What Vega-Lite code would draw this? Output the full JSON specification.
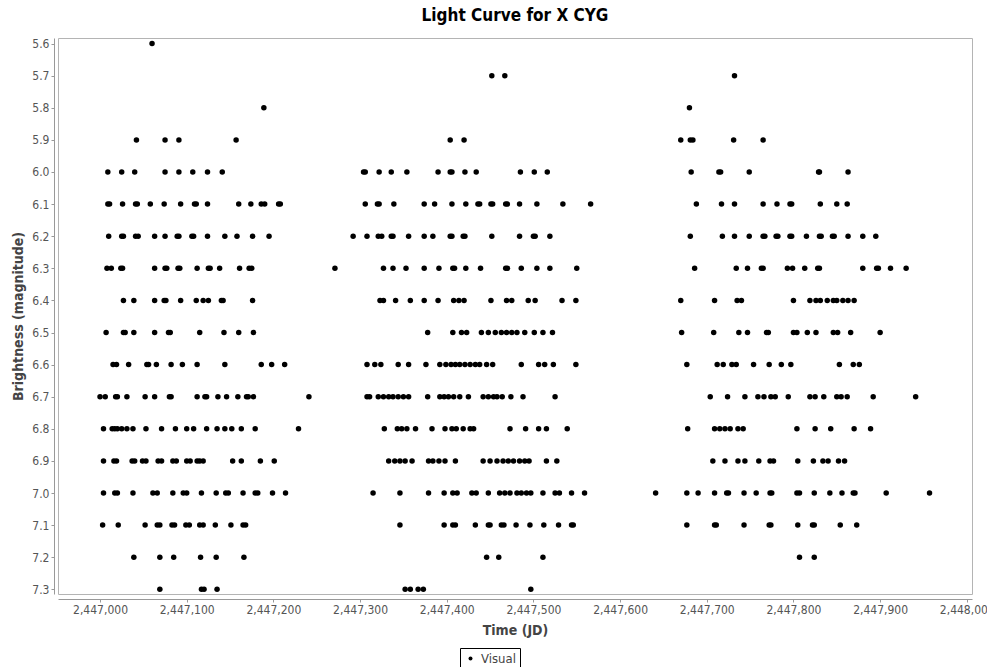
{
"$schema": "https://vega.github.io/schema/vega-lite/v6.json",
"width": 914, "height": 556,
"autosize": {"type": "none"},
"padding": {"left": 58, "top": 38, "right": 15, "bottom": 73},
"title": {"text": "Light Curve for X CYG", "fontSize": 17, "fontWeight": "bold", "color": "#000000", "anchor": "middle", "offset": 13},
"config": {
  "font": "DejaVu Sans Condensed, DejaVu Sans",
  "view": {"stroke": "#b4b4b4", "strokeWidth": 1},
  "axis": {"grid": false, "domainColor": "#999999", "tickColor": "#999999", "tickSize": 3, "labelColor": "#555555", "labelFontSize": 12, "titleColor": "#444444", "titleFontSize": 14, "titleFontWeight": "bold", "labelPadding": 2}
},
"datasets": {"obs": [
{"JD":2447060,"mag":5.6},
{"JD":2447452,"mag":5.7},{"JD":2447467,"mag":5.7},{"JD":2447732,"mag":5.7},
{"JD":2447189,"mag":5.8},{"JD":2447680,"mag":5.8},
{"JD":2447042,"mag":5.9},{"JD":2447075,"mag":5.9},{"JD":2447091,"mag":5.9},{"JD":2447157,"mag":5.9},{"JD":2447404,"mag":5.9},{"JD":2447420,"mag":5.9},{"JD":2447670,"mag":5.9},{"JD":2447681,"mag":5.9},{"JD":2447684,"mag":5.9},{"JD":2447731,"mag":5.9},{"JD":2447765,"mag":5.9},
{"JD":2447009,"mag":6.0},{"JD":2447025,"mag":6.0},{"JD":2447040,"mag":6.0},{"JD":2447075,"mag":6.0},{"JD":2447091,"mag":6.0},{"JD":2447107,"mag":6.0},{"JD":2447124,"mag":6.0},{"JD":2447141,"mag":6.0},{"JD":2447304,"mag":6.0},{"JD":2447306,"mag":6.0},{"JD":2447322,"mag":6.0},{"JD":2447336,"mag":6.0},{"JD":2447354,"mag":6.0},{"JD":2447390,"mag":6.0},{"JD":2447404,"mag":6.0},{"JD":2447406,"mag":6.0},{"JD":2447421,"mag":6.0},{"JD":2447434,"mag":6.0},{"JD":2447485,"mag":6.0},{"JD":2447501,"mag":6.0},{"JD":2447516,"mag":6.0},{"JD":2447682,"mag":6.0},{"JD":2447714,"mag":6.0},{"JD":2447716,"mag":6.0},{"JD":2447749,"mag":6.0},{"JD":2447829,"mag":6.0},{"JD":2447830,"mag":6.0},{"JD":2447863,"mag":6.0},
{"JD":2447009,"mag":6.1},{"JD":2447011,"mag":6.1},{"JD":2447026,"mag":6.1},{"JD":2447041,"mag":6.1},{"JD":2447043,"mag":6.1},{"JD":2447058,"mag":6.1},{"JD":2447074,"mag":6.1},{"JD":2447093,"mag":6.1},{"JD":2447109,"mag":6.1},{"JD":2447111,"mag":6.1},{"JD":2447124,"mag":6.1},{"JD":2447160,"mag":6.1},{"JD":2447174,"mag":6.1},{"JD":2447186,"mag":6.1},{"JD":2447190,"mag":6.1},{"JD":2447206,"mag":6.1},{"JD":2447208,"mag":6.1},{"JD":2447306,"mag":6.1},{"JD":2447320,"mag":6.1},{"JD":2447322,"mag":6.1},{"JD":2447339,"mag":6.1},{"JD":2447374,"mag":6.1},{"JD":2447386,"mag":6.1},{"JD":2447406,"mag":6.1},{"JD":2447422,"mag":6.1},{"JD":2447436,"mag":6.1},{"JD":2447438,"mag":6.1},{"JD":2447451,"mag":6.1},{"JD":2447453,"mag":6.1},{"JD":2447468,"mag":6.1},{"JD":2447470,"mag":6.1},{"JD":2447484,"mag":6.1},{"JD":2447504,"mag":6.1},{"JD":2447534,"mag":6.1},{"JD":2447566,"mag":6.1},{"JD":2447688,"mag":6.1},{"JD":2447717,"mag":6.1},{"JD":2447732,"mag":6.1},{"JD":2447765,"mag":6.1},{"JD":2447781,"mag":6.1},{"JD":2447796,"mag":6.1},{"JD":2447798,"mag":6.1},{"JD":2447831,"mag":6.1},{"JD":2447850,"mag":6.1},{"JD":2447862,"mag":6.1},
{"JD":2447010,"mag":6.2},{"JD":2447025,"mag":6.2},{"JD":2447027,"mag":6.2},{"JD":2447041,"mag":6.2},{"JD":2447044,"mag":6.2},{"JD":2447063,"mag":6.2},{"JD":2447075,"mag":6.2},{"JD":2447089,"mag":6.2},{"JD":2447091,"mag":6.2},{"JD":2447106,"mag":6.2},{"JD":2447108,"mag":6.2},{"JD":2447124,"mag":6.2},{"JD":2447144,"mag":6.2},{"JD":2447158,"mag":6.2},{"JD":2447176,"mag":6.2},{"JD":2447195,"mag":6.2},{"JD":2447292,"mag":6.2},{"JD":2447308,"mag":6.2},{"JD":2447321,"mag":6.2},{"JD":2447325,"mag":6.2},{"JD":2447336,"mag":6.2},{"JD":2447338,"mag":6.2},{"JD":2447356,"mag":6.2},{"JD":2447374,"mag":6.2},{"JD":2447384,"mag":6.2},{"JD":2447404,"mag":6.2},{"JD":2447406,"mag":6.2},{"JD":2447419,"mag":6.2},{"JD":2447421,"mag":6.2},{"JD":2447452,"mag":6.2},{"JD":2447484,"mag":6.2},{"JD":2447500,"mag":6.2},{"JD":2447502,"mag":6.2},{"JD":2447519,"mag":6.2},{"JD":2447681,"mag":6.2},{"JD":2447718,"mag":6.2},{"JD":2447732,"mag":6.2},{"JD":2447749,"mag":6.2},{"JD":2447765,"mag":6.2},{"JD":2447767,"mag":6.2},{"JD":2447780,"mag":6.2},{"JD":2447782,"mag":6.2},{"JD":2447796,"mag":6.2},{"JD":2447798,"mag":6.2},{"JD":2447815,"mag":6.2},{"JD":2447830,"mag":6.2},{"JD":2447832,"mag":6.2},{"JD":2447845,"mag":6.2},{"JD":2447847,"mag":6.2},{"JD":2447863,"mag":6.2},{"JD":2447880,"mag":6.2},{"JD":2447895,"mag":6.2},
{"JD":2447008,"mag":6.3},{"JD":2447013,"mag":6.3},{"JD":2447024,"mag":6.3},{"JD":2447026,"mag":6.3},{"JD":2447063,"mag":6.3},{"JD":2447075,"mag":6.3},{"JD":2447077,"mag":6.3},{"JD":2447090,"mag":6.3},{"JD":2447092,"mag":6.3},{"JD":2447112,"mag":6.3},{"JD":2447125,"mag":6.3},{"JD":2447127,"mag":6.3},{"JD":2447138,"mag":6.3},{"JD":2447161,"mag":6.3},{"JD":2447172,"mag":6.3},{"JD":2447175,"mag":6.3},{"JD":2447271,"mag":6.3},{"JD":2447327,"mag":6.3},{"JD":2447338,"mag":6.3},{"JD":2447353,"mag":6.3},{"JD":2447374,"mag":6.3},{"JD":2447391,"mag":6.3},{"JD":2447407,"mag":6.3},{"JD":2447409,"mag":6.3},{"JD":2447422,"mag":6.3},{"JD":2447439,"mag":6.3},{"JD":2447468,"mag":6.3},{"JD":2447470,"mag":6.3},{"JD":2447486,"mag":6.3},{"JD":2447504,"mag":6.3},{"JD":2447519,"mag":6.3},{"JD":2447550,"mag":6.3},{"JD":2447686,"mag":6.3},{"JD":2447734,"mag":6.3},{"JD":2447747,"mag":6.3},{"JD":2447763,"mag":6.3},{"JD":2447765,"mag":6.3},{"JD":2447793,"mag":6.3},{"JD":2447799,"mag":6.3},{"JD":2447813,"mag":6.3},{"JD":2447828,"mag":6.3},{"JD":2447830,"mag":6.3},{"JD":2447880,"mag":6.3},{"JD":2447896,"mag":6.3},{"JD":2447898,"mag":6.3},{"JD":2447912,"mag":6.3},{"JD":2447930,"mag":6.3},
{"JD":2447027,"mag":6.4},{"JD":2447039,"mag":6.4},{"JD":2447063,"mag":6.4},{"JD":2447074,"mag":6.4},{"JD":2447076,"mag":6.4},{"JD":2447093,"mag":6.4},{"JD":2447111,"mag":6.4},{"JD":2447119,"mag":6.4},{"JD":2447125,"mag":6.4},{"JD":2447140,"mag":6.4},{"JD":2447142,"mag":6.4},{"JD":2447176,"mag":6.4},{"JD":2447323,"mag":6.4},{"JD":2447327,"mag":6.4},{"JD":2447341,"mag":6.4},{"JD":2447358,"mag":6.4},{"JD":2447374,"mag":6.4},{"JD":2447390,"mag":6.4},{"JD":2447408,"mag":6.4},{"JD":2447414,"mag":6.4},{"JD":2447420,"mag":6.4},{"JD":2447451,"mag":6.4},{"JD":2447469,"mag":6.4},{"JD":2447475,"mag":6.4},{"JD":2447494,"mag":6.4},{"JD":2447502,"mag":6.4},{"JD":2447533,"mag":6.4},{"JD":2447549,"mag":6.4},{"JD":2447670,"mag":6.4},{"JD":2447709,"mag":6.4},{"JD":2447735,"mag":6.4},{"JD":2447740,"mag":6.4},{"JD":2447800,"mag":6.4},{"JD":2447819,"mag":6.4},{"JD":2447826,"mag":6.4},{"JD":2447831,"mag":6.4},{"JD":2447839,"mag":6.4},{"JD":2447846,"mag":6.4},{"JD":2447850,"mag":6.4},{"JD":2447857,"mag":6.4},{"JD":2447863,"mag":6.4},{"JD":2447870,"mag":6.4},
{"JD":2447007,"mag":6.5},{"JD":2447027,"mag":6.5},{"JD":2447029,"mag":6.5},{"JD":2447039,"mag":6.5},{"JD":2447063,"mag":6.5},{"JD":2447079,"mag":6.5},{"JD":2447081,"mag":6.5},{"JD":2447115,"mag":6.5},{"JD":2447143,"mag":6.5},{"JD":2447160,"mag":6.5},{"JD":2447177,"mag":6.5},{"JD":2447378,"mag":6.5},{"JD":2447407,"mag":6.5},{"JD":2447417,"mag":6.5},{"JD":2447423,"mag":6.5},{"JD":2447440,"mag":6.5},{"JD":2447448,"mag":6.5},{"JD":2447456,"mag":6.5},{"JD":2447463,"mag":6.5},{"JD":2447469,"mag":6.5},{"JD":2447475,"mag":6.5},{"JD":2447481,"mag":6.5},{"JD":2447490,"mag":6.5},{"JD":2447501,"mag":6.5},{"JD":2447511,"mag":6.5},{"JD":2447522,"mag":6.5},{"JD":2447671,"mag":6.5},{"JD":2447708,"mag":6.5},{"JD":2447737,"mag":6.5},{"JD":2447747,"mag":6.5},{"JD":2447769,"mag":6.5},{"JD":2447771,"mag":6.5},{"JD":2447800,"mag":6.5},{"JD":2447804,"mag":6.5},{"JD":2447816,"mag":6.5},{"JD":2447826,"mag":6.5},{"JD":2447846,"mag":6.5},{"JD":2447851,"mag":6.5},{"JD":2447866,"mag":6.5},{"JD":2447900,"mag":6.5},
{"JD":2447015,"mag":6.6},{"JD":2447019,"mag":6.6},{"JD":2447033,"mag":6.6},{"JD":2447054,"mag":6.6},{"JD":2447056,"mag":6.6},{"JD":2447065,"mag":6.6},{"JD":2447082,"mag":6.6},{"JD":2447095,"mag":6.6},{"JD":2447112,"mag":6.6},{"JD":2447144,"mag":6.6},{"JD":2447186,"mag":6.6},{"JD":2447198,"mag":6.6},{"JD":2447213,"mag":6.6},{"JD":2447308,"mag":6.6},{"JD":2447317,"mag":6.6},{"JD":2447324,"mag":6.6},{"JD":2447344,"mag":6.6},{"JD":2447356,"mag":6.6},{"JD":2447376,"mag":6.6},{"JD":2447392,"mag":6.6},{"JD":2447399,"mag":6.6},{"JD":2447405,"mag":6.6},{"JD":2447410,"mag":6.6},{"JD":2447415,"mag":6.6},{"JD":2447421,"mag":6.6},{"JD":2447427,"mag":6.6},{"JD":2447433,"mag":6.6},{"JD":2447438,"mag":6.6},{"JD":2447446,"mag":6.6},{"JD":2447453,"mag":6.6},{"JD":2447486,"mag":6.6},{"JD":2447506,"mag":6.6},{"JD":2447513,"mag":6.6},{"JD":2447523,"mag":6.6},{"JD":2447549,"mag":6.6},{"JD":2447677,"mag":6.6},{"JD":2447712,"mag":6.6},{"JD":2447719,"mag":6.6},{"JD":2447729,"mag":6.6},{"JD":2447734,"mag":6.6},{"JD":2447754,"mag":6.6},{"JD":2447772,"mag":6.6},{"JD":2447786,"mag":6.6},{"JD":2447797,"mag":6.6},{"JD":2447853,"mag":6.6},{"JD":2447869,"mag":6.6},{"JD":2447876,"mag":6.6},
{"JD":2447000,"mag":6.7},{"JD":2447006,"mag":6.7},{"JD":2447018,"mag":6.7},{"JD":2447020,"mag":6.7},{"JD":2447031,"mag":6.7},{"JD":2447052,"mag":6.7},{"JD":2447063,"mag":6.7},{"JD":2447080,"mag":6.7},{"JD":2447082,"mag":6.7},{"JD":2447112,"mag":6.7},{"JD":2447121,"mag":6.7},{"JD":2447123,"mag":6.7},{"JD":2447136,"mag":6.7},{"JD":2447146,"mag":6.7},{"JD":2447159,"mag":6.7},{"JD":2447169,"mag":6.7},{"JD":2447171,"mag":6.7},{"JD":2447177,"mag":6.7},{"JD":2447241,"mag":6.7},{"JD":2447308,"mag":6.7},{"JD":2447311,"mag":6.7},{"JD":2447321,"mag":6.7},{"JD":2447327,"mag":6.7},{"JD":2447333,"mag":6.7},{"JD":2447338,"mag":6.7},{"JD":2447344,"mag":6.7},{"JD":2447350,"mag":6.7},{"JD":2447356,"mag":6.7},{"JD":2447378,"mag":6.7},{"JD":2447392,"mag":6.7},{"JD":2447397,"mag":6.7},{"JD":2447402,"mag":6.7},{"JD":2447408,"mag":6.7},{"JD":2447415,"mag":6.7},{"JD":2447425,"mag":6.7},{"JD":2447442,"mag":6.7},{"JD":2447448,"mag":6.7},{"JD":2447454,"mag":6.7},{"JD":2447458,"mag":6.7},{"JD":2447464,"mag":6.7},{"JD":2447474,"mag":6.7},{"JD":2447488,"mag":6.7},{"JD":2447525,"mag":6.7},{"JD":2447704,"mag":6.7},{"JD":2447724,"mag":6.7},{"JD":2447744,"mag":6.7},{"JD":2447759,"mag":6.7},{"JD":2447766,"mag":6.7},{"JD":2447774,"mag":6.7},{"JD":2447779,"mag":6.7},{"JD":2447794,"mag":6.7},{"JD":2447819,"mag":6.7},{"JD":2447825,"mag":6.7},{"JD":2447835,"mag":6.7},{"JD":2447850,"mag":6.7},{"JD":2447855,"mag":6.7},{"JD":2447862,"mag":6.7},{"JD":2447892,"mag":6.7},{"JD":2447941,"mag":6.7},
{"JD":2447004,"mag":6.8},{"JD":2447014,"mag":6.8},{"JD":2447017,"mag":6.8},{"JD":2447020,"mag":6.8},{"JD":2447025,"mag":6.8},{"JD":2447031,"mag":6.8},{"JD":2447038,"mag":6.8},{"JD":2447053,"mag":6.8},{"JD":2447071,"mag":6.8},{"JD":2447087,"mag":6.8},{"JD":2447100,"mag":6.8},{"JD":2447108,"mag":6.8},{"JD":2447123,"mag":6.8},{"JD":2447135,"mag":6.8},{"JD":2447144,"mag":6.8},{"JD":2447152,"mag":6.8},{"JD":2447163,"mag":6.8},{"JD":2447179,"mag":6.8},{"JD":2447229,"mag":6.8},{"JD":2447328,"mag":6.8},{"JD":2447343,"mag":6.8},{"JD":2447348,"mag":6.8},{"JD":2447354,"mag":6.8},{"JD":2447364,"mag":6.8},{"JD":2447383,"mag":6.8},{"JD":2447398,"mag":6.8},{"JD":2447406,"mag":6.8},{"JD":2447411,"mag":6.8},{"JD":2447419,"mag":6.8},{"JD":2447427,"mag":6.8},{"JD":2447431,"mag":6.8},{"JD":2447473,"mag":6.8},{"JD":2447491,"mag":6.8},{"JD":2447506,"mag":6.8},{"JD":2447515,"mag":6.8},{"JD":2447539,"mag":6.8},{"JD":2447678,"mag":6.8},{"JD":2447709,"mag":6.8},{"JD":2447715,"mag":6.8},{"JD":2447721,"mag":6.8},{"JD":2447727,"mag":6.8},{"JD":2447736,"mag":6.8},{"JD":2447742,"mag":6.8},{"JD":2447804,"mag":6.8},{"JD":2447825,"mag":6.8},{"JD":2447843,"mag":6.8},{"JD":2447870,"mag":6.8},{"JD":2447889,"mag":6.8},
{"JD":2447004,"mag":6.9},{"JD":2447016,"mag":6.9},{"JD":2447019,"mag":6.9},{"JD":2447037,"mag":6.9},{"JD":2447040,"mag":6.9},{"JD":2447049,"mag":6.9},{"JD":2447053,"mag":6.9},{"JD":2447067,"mag":6.9},{"JD":2447071,"mag":6.9},{"JD":2447084,"mag":6.9},{"JD":2447088,"mag":6.9},{"JD":2447100,"mag":6.9},{"JD":2447104,"mag":6.9},{"JD":2447112,"mag":6.9},{"JD":2447115,"mag":6.9},{"JD":2447119,"mag":6.9},{"JD":2447153,"mag":6.9},{"JD":2447163,"mag":6.9},{"JD":2447185,"mag":6.9},{"JD":2447201,"mag":6.9},{"JD":2447333,"mag":6.9},{"JD":2447340,"mag":6.9},{"JD":2447346,"mag":6.9},{"JD":2447352,"mag":6.9},{"JD":2447360,"mag":6.9},{"JD":2447379,"mag":6.9},{"JD":2447384,"mag":6.9},{"JD":2447391,"mag":6.9},{"JD":2447398,"mag":6.9},{"JD":2447410,"mag":6.9},{"JD":2447442,"mag":6.9},{"JD":2447450,"mag":6.9},{"JD":2447458,"mag":6.9},{"JD":2447465,"mag":6.9},{"JD":2447471,"mag":6.9},{"JD":2447477,"mag":6.9},{"JD":2447484,"mag":6.9},{"JD":2447490,"mag":6.9},{"JD":2447495,"mag":6.9},{"JD":2447515,"mag":6.9},{"JD":2447527,"mag":6.9},{"JD":2447707,"mag":6.9},{"JD":2447721,"mag":6.9},{"JD":2447736,"mag":6.9},{"JD":2447744,"mag":6.9},{"JD":2447760,"mag":6.9},{"JD":2447773,"mag":6.9},{"JD":2447777,"mag":6.9},{"JD":2447805,"mag":6.9},{"JD":2447823,"mag":6.9},{"JD":2447834,"mag":6.9},{"JD":2447840,"mag":6.9},{"JD":2447852,"mag":6.9},{"JD":2447859,"mag":6.9},
{"JD":2447004,"mag":7.0},{"JD":2447017,"mag":7.0},{"JD":2447020,"mag":7.0},{"JD":2447038,"mag":7.0},{"JD":2447061,"mag":7.0},{"JD":2447066,"mag":7.0},{"JD":2447084,"mag":7.0},{"JD":2447096,"mag":7.0},{"JD":2447100,"mag":7.0},{"JD":2447117,"mag":7.0},{"JD":2447134,"mag":7.0},{"JD":2447145,"mag":7.0},{"JD":2447148,"mag":7.0},{"JD":2447165,"mag":7.0},{"JD":2447179,"mag":7.0},{"JD":2447182,"mag":7.0},{"JD":2447199,"mag":7.0},{"JD":2447214,"mag":7.0},{"JD":2447315,"mag":7.0},{"JD":2447346,"mag":7.0},{"JD":2447379,"mag":7.0},{"JD":2447397,"mag":7.0},{"JD":2447407,"mag":7.0},{"JD":2447412,"mag":7.0},{"JD":2447429,"mag":7.0},{"JD":2447434,"mag":7.0},{"JD":2447448,"mag":7.0},{"JD":2447461,"mag":7.0},{"JD":2447467,"mag":7.0},{"JD":2447473,"mag":7.0},{"JD":2447481,"mag":7.0},{"JD":2447486,"mag":7.0},{"JD":2447492,"mag":7.0},{"JD":2447497,"mag":7.0},{"JD":2447511,"mag":7.0},{"JD":2447525,"mag":7.0},{"JD":2447530,"mag":7.0},{"JD":2447544,"mag":7.0},{"JD":2447559,"mag":7.0},{"JD":2447641,"mag":7.0},{"JD":2447677,"mag":7.0},{"JD":2447690,"mag":7.0},{"JD":2447709,"mag":7.0},{"JD":2447723,"mag":7.0},{"JD":2447725,"mag":7.0},{"JD":2447743,"mag":7.0},{"JD":2447757,"mag":7.0},{"JD":2447773,"mag":7.0},{"JD":2447775,"mag":7.0},{"JD":2447804,"mag":7.0},{"JD":2447807,"mag":7.0},{"JD":2447824,"mag":7.0},{"JD":2447842,"mag":7.0},{"JD":2447856,"mag":7.0},{"JD":2447869,"mag":7.0},{"JD":2447871,"mag":7.0},{"JD":2447907,"mag":7.0},{"JD":2447957,"mag":7.0},
{"JD":2447003,"mag":7.1},{"JD":2447021,"mag":7.1},{"JD":2447052,"mag":7.1},{"JD":2447066,"mag":7.1},{"JD":2447069,"mag":7.1},{"JD":2447083,"mag":7.1},{"JD":2447086,"mag":7.1},{"JD":2447099,"mag":7.1},{"JD":2447103,"mag":7.1},{"JD":2447115,"mag":7.1},{"JD":2447119,"mag":7.1},{"JD":2447133,"mag":7.1},{"JD":2447151,"mag":7.1},{"JD":2447165,"mag":7.1},{"JD":2447168,"mag":7.1},{"JD":2447346,"mag":7.1},{"JD":2447397,"mag":7.1},{"JD":2447407,"mag":7.1},{"JD":2447410,"mag":7.1},{"JD":2447433,"mag":7.1},{"JD":2447448,"mag":7.1},{"JD":2447450,"mag":7.1},{"JD":2447463,"mag":7.1},{"JD":2447466,"mag":7.1},{"JD":2447480,"mag":7.1},{"JD":2447496,"mag":7.1},{"JD":2447512,"mag":7.1},{"JD":2447529,"mag":7.1},{"JD":2447544,"mag":7.1},{"JD":2447546,"mag":7.1},{"JD":2447677,"mag":7.1},{"JD":2447709,"mag":7.1},{"JD":2447711,"mag":7.1},{"JD":2447743,"mag":7.1},{"JD":2447772,"mag":7.1},{"JD":2447774,"mag":7.1},{"JD":2447805,"mag":7.1},{"JD":2447822,"mag":7.1},{"JD":2447824,"mag":7.1},{"JD":2447854,"mag":7.1},{"JD":2447873,"mag":7.1},
{"JD":2447039,"mag":7.2},{"JD":2447069,"mag":7.2},{"JD":2447085,"mag":7.2},{"JD":2447116,"mag":7.2},{"JD":2447134,"mag":7.2},{"JD":2447166,"mag":7.2},{"JD":2447446,"mag":7.2},{"JD":2447460,"mag":7.2},{"JD":2447511,"mag":7.2},{"JD":2447807,"mag":7.2},{"JD":2447824,"mag":7.2},
{"JD":2447069,"mag":7.3},{"JD":2447117,"mag":7.3},{"JD":2447120,"mag":7.3},{"JD":2447135,"mag":7.3},{"JD":2447352,"mag":7.3},{"JD":2447358,"mag":7.3},{"JD":2447367,"mag":7.3},{"JD":2447373,"mag":7.3},{"JD":2447497,"mag":7.3}
]},
"data": {"name": "obs"},
"mark": {"type": "point", "filled": true, "shape": "circle", "size": 30, "opacity": 1},
"encoding": {
  "x": {"field": "JD", "type": "quantitative",
        "scale": {"domain": [2446951.5, 2448006], "nice": false, "zero": false},
        "axis": {"title": "Time (JD)", "values": [2447000, 2447100, 2447200, 2447300, 2447400, 2447500, 2447600, 2447700, 2447800, 2447900, 2448000], "format": ",d", "offset": 5, "titlePadding": 8, "labelFlush": false, "labelOverlap": false}},
  "y": {"field": "mag", "type": "quantitative",
        "scale": {"domain": [5.5826, 7.3146], "reverse": true, "nice": false, "zero": false},
        "axis": {"title": "Brightness (magnitude)", "values": [5.6, 5.7, 5.8, 5.9, 6.0, 6.1, 6.2, 6.3, 6.4, 6.5, 6.6, 6.7, 6.8, 6.9, 7.0, 7.1, 7.2, 7.3], "format": ".1f", "offset": 4, "titlePadding": 6, "labelFlush": false, "labelOverlap": false}},
  "color": {"datum": "Visual", "scale": {"range": ["#000000"]},
            "legend": {"title": null, "orient": "none", "legendX": 402, "legendY": 610, "strokeColor": "#000000", "padding": 4, "symbolType": "circle", "symbolSize": 16, "labelFontSize": 13, "labelColor": "#444444", "symbolOpacity": 1}}
}
}
